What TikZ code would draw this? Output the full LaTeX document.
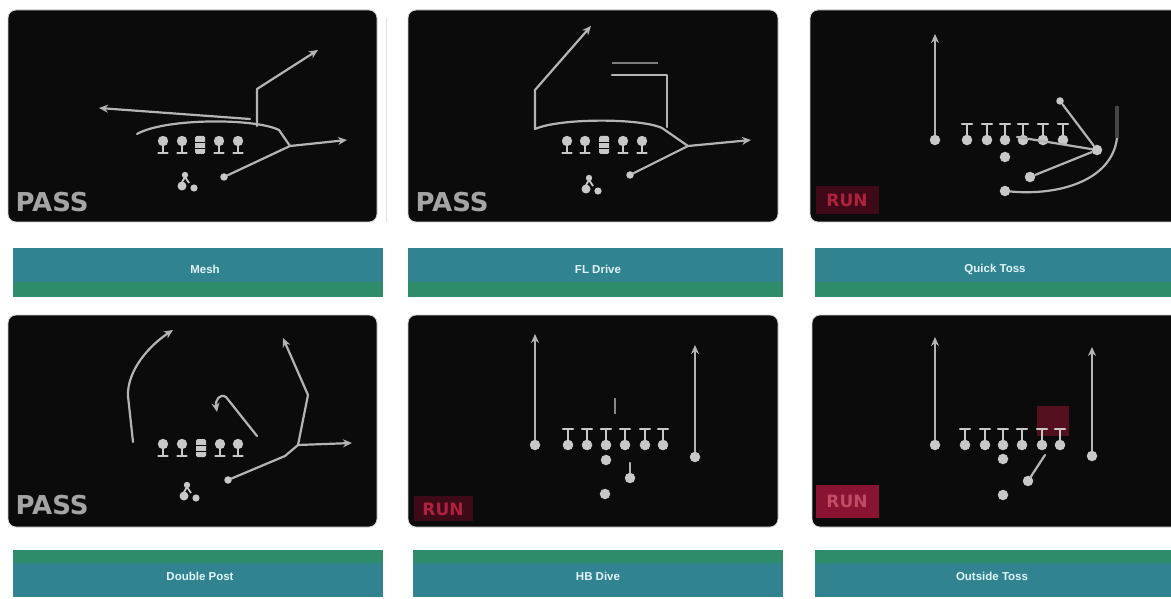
\documentclass[tikz,border=0pt]{standalone}
\usepackage{fontspec}
\setmainfont{DejaVu Sans}
\newfontfamily\btnfont{Liberation Sans}
\usetikzlibrary{arrows.meta}
\definecolor{cardfill}{HTML}{0B0B0B}
\definecolor{chalk}{HTML}{C8C8C8}
\definecolor{routec}{HTML}{B4B4B4}
\definecolor{tealc}{HTML}{30838F}
\definecolor{greenc}{HTML}{2E8C6A}
\definecolor{btntext}{HTML}{E2F4FB}
\definecolor{passc}{HTML}{A4A4A4}
\definecolor{runtext}{HTML}{B0203F}
\definecolor{runbox}{HTML}{3E0A17}
\definecolor{runbright}{HTML}{8A1232}
\definecolor{hlbox}{HTML}{55101F}
\tikzset{
  card/.style={fill=cardfill, draw=gray!35, line width=0.8pt, rounded corners=8pt},
  route/.style={draw=routec, line width=2.2pt, line cap=round, line join=round},
  tipped/.style={-{Stealth[length=9pt,width=8pt]}},
  plr/.style={circle, fill=chalk, inner sep=0pt, minimum size=10.5pt},
  passlbl/.style={text=passc, font=\bfseries\fontsize{26}{26}\selectfont, anchor=west},
  runlbl/.style={text=runtext, font=\bfseries\fontsize{17}{17}\selectfont},
  btnlbl/.style={text=btntext, font=\btnfont\bfseries\fontsize{11.5}{11.5}\selectfont},
  passman/.pic={
    \fill[chalk] (0,0) circle[radius=5.2pt];
    \draw[chalk, line width=2pt] (0,3) -- (0,11);
    \draw[chalk, line width=2.6pt, line cap=round] (-4.5,12) -- (4.5,12);
  },
  snapper/.pic={
    \fill[chalk, rounded corners=1.5pt] (-5,-5) rectangle (5,13);
    \draw[cardfill, line width=0.8pt] (-5,1) -- (5,1) (-5,7) -- (5,7);
  },
  runman/.pic={
    \draw[chalk, line width=2.4pt, line cap=round] (-5,-16) -- (5,-16);
    \draw[chalk, line width=2pt] (0,-16) -- (0,-4);
    \fill[chalk] (0,0) circle[radius=5.3pt];
  },
  qbglyph/.pic={
    \fill[chalk] (0,-6) circle[radius=3.2pt];
    \draw[chalk, line width=1.8pt] (0,-4) -- (-3,1) (0,-4) -- (4,2);
    \fill[chalk] (-3,5) circle[radius=4.5pt];
    \fill[chalk] (9,7) circle[radius=3.6pt];
  },
}
\begin{document}
\begin{tikzpicture}[x=1pt,y=-1pt]
\useasboundingbox (0,0) rectangle (1171,599);
\clip (0,0) rectangle (1171,599);
\fill[white] (0,0) rectangle (1171,599);

% faint separator
\draw[gray!25, line width=0.8pt] (386,18) -- (386,222);

% ================= cards =================
\path[card] (8,10) rectangle (377,222);
\path[card] (408,10) rectangle (778,222);
\path[card] (810,10) rectangle (1185,222);
\path[card] (8,315) rectangle (377,527);
\path[card] (408,315) rectangle (778,527);
\path[card] (812,315) rectangle (1185,527);

% ================= buttons =================
\fill[tealc] (13,248) rectangle (383,282);
\fill[greenc] (13,282) rectangle (383,297);
\fill[tealc] (408,248) rectangle (783,282);
\fill[greenc] (408,282) rectangle (783,297);
\fill[tealc] (815,248) rectangle (1171,282);
\fill[greenc] (815,282) rectangle (1171,297);
\fill[greenc] (13,550) rectangle (383,563);
\fill[tealc] (13,563) rectangle (383,597);
\fill[greenc] (413,550) rectangle (783,563);
\fill[tealc] (413,563) rectangle (783,597);
\fill[greenc] (815,550) rectangle (1171,563);
\fill[tealc] (815,563) rectangle (1171,597);

\node[btnlbl] (b1) at (205,269) {Mesh};
\node[btnlbl] (b2) at (598,269) {FL Drive};
\node[btnlbl] (b3) at (995,269) {Quick Toss};
\node[btnlbl] (b4) at (200,576) {Double Post};
\node[btnlbl] (b5) at (598,576) {HB Dive};
\node[btnlbl] (b6) at (992,576) {Outside Toss};

% ================= card 1 : PASS =================
\node[passlbl] (p1) at (12,202) {PASS};
\pic (c1l1) at (163,141) {passman};
\pic (c1l2) at (182,141) {passman};
\pic (c1l3) at (200,141) {snapper};
\pic (c1l4) at (219,141) {passman};
\pic (c1l5) at (238,141) {passman};
\pic (c1qb) at (185,181) {qbglyph};
\node[plr, minimum size=7.5pt] (c1rb) at (224,177) {};
\coordinate (c1a) at (137,134);
\coordinate (c1b) at (279,130);
\coordinate (c1v) at (290,146);
\coordinate (c1c) at (347,140);
\coordinate (c1d) at (257,126);
\coordinate (c1e) at (257,89);
\coordinate (c1f) at (318,50);
\coordinate (c1g) at (250,119);
\coordinate (c1h) at (99,108);
\draw[route] (c1a) .. controls (165,118) and (255,118) .. (c1b) -- (c1v);
\draw[route] (c1rb) -- (c1v);
\draw[route, tipped] (c1v) -- (c1c);
\draw[route, tipped] (c1d) -- (c1e) -- (c1f);
\draw[route, tipped] (c1g) -- (c1h);

% ================= card 2 : PASS =================
\node[passlbl] (p2) at (412,202) {PASS};
\pic (c2l1) at (567,141) {passman};
\pic (c2l2) at (585,141) {passman};
\pic (c2l3) at (604,141) {snapper};
\pic (c2l4) at (623,141) {passman};
\pic (c2l5) at (642,141) {passman};
\pic (c2qb) at (589,184) {qbglyph};
\node[plr, minimum size=7.5pt] (c2rb) at (630,175) {};
\coordinate (c2a) at (535,129);
\coordinate (c2b) at (662,128);
\coordinate (c2v) at (688,146);
\coordinate (c2c) at (751,140);
\coordinate (c2d) at (535,90);
\coordinate (c2e) at (591,26);
\coordinate (c2f) at (667,127);
\coordinate (c2g) at (667,75);
\coordinate (c2h) at (612,75);
\coordinate (c2i) at (650,165);
\draw[route] (c2a) .. controls (560,118) and (640,118) .. (c2b) -- (c2v);
\draw[route] (c2rb) -- (c2i) -- (c2v);
\draw[route, tipped] (c2v) -- (c2c);
\draw[route, tipped] (c2a) -- (c2d) -- (c2e);
\draw[route] (c2f) -- (c2g) -- (c2h);
\draw[routec!70!black, line width=1.8pt] (612,63) -- (658,63);

% ================= card 3 : RUN =================
\fill[runbox] (816,186) rectangle (879,214);
\node[runlbl] (r3) at (847,200) {RUN};
\node[plr] (c3w) at (935,140) {};
\coordinate (c3wt) at (935,34);
\draw[route, tipped] (c3w) -- (c3wt);
\pic (c3l1) at (967,140) {runman};
\pic (c3l2) at (987,140) {runman};
\pic (c3l3) at (1005,140) {runman};
\pic (c3l4) at (1023,140) {runman};
\pic (c3l5) at (1043,140) {runman};
\pic (c3l6) at (1063,140) {runman};
\node[plr] (c3qb) at (1005,157) {};
\node[plr] (c3hb) at (1030,177) {};
\node[plr] (c3fb) at (1005,191) {};
\node[plr] (c3te) at (1097,150) {};
\node[plr, minimum size=7.5pt] (c3lb) at (1060,101) {};
\coordinate (c3s) at (1017,137);
\coordinate (c3x) at (1117,138);
\coordinate (c3y) at (1117,106);
\draw[route] (c3s) -- (c3te);
\draw[route] (c3lb) -- (c3te);
\draw[route] (c3hb) -- (c3te);
\draw[route] (c3fb) .. controls (1060,196) and (1112,180) .. (c3x);
\draw[gray!55!black, line width=4.5pt] (c3x) -- (c3y);

% ================= card 4 : PASS =================
\node[passlbl] (p4) at (12,505) {PASS};
\pic (c4l1) at (163,444) {passman};
\pic (c4l2) at (182,444) {passman};
\pic (c4l3) at (201,444) {snapper};
\pic (c4l4) at (220,444) {passman};
\pic (c4l5) at (238,444) {passman};
\pic (c4qb) at (187,491) {qbglyph};
\node[plr, minimum size=7.5pt] (c4rb) at (228,480) {};
\coordinate (c4a) at (133,442);
\coordinate (c4b) at (128,396);
\coordinate (c4c) at (173,330);
\coordinate (c4d) at (298,445);
\coordinate (c4e) at (308,395);
\coordinate (c4f) at (283,338);
\coordinate (c4g) at (352,443);
\coordinate (c4h) at (257,436);
\coordinate (c4i) at (226,397);
\coordinate (c4j) at (217,412);
\coordinate (c4k) at (285,456);
\draw[route, tipped] (c4a) -- (c4b) .. controls (127,370) and (150,345) .. (c4c);
\draw[route, tipped] (c4d) -- (c4e) -- (c4f);
\draw[route, tipped] (c4d) -- (c4g);
\draw[route, tipped] (c4h) -- (c4i) .. controls (220,393) and (215,400) .. (c4j);
\draw[route] (c4rb) -- (c4k) -- (c4d);

% ================= card 5 : RUN =================
\fill[runbox] (414,496) rectangle (473,521);
\node[runlbl] (r5) at (443,509) {RUN};
\node[plr] (c5w1) at (535,445) {};
\coordinate (c5t1) at (535,334);
\draw[route, tipped] (c5w1) -- (c5t1);
\node[plr] (c5w2) at (695,457) {};
\coordinate (c5t2) at (695,345);
\draw[route, tipped] (c5w2) -- (c5t2);
\pic (c5l1) at (568,445) {runman};
\pic (c5l2) at (587,445) {runman};
\pic (c5l3) at (606,445) {runman};
\pic (c5l4) at (625,445) {runman};
\pic (c5l5) at (645,445) {runman};
\pic (c5l6) at (663,445) {runman};
\draw[routec!75!black, line width=2.2pt] (615,398) -- (615,414);
\node[plr] (c5qb) at (606,460) {};
\node[plr] (c5hb) at (630,478) {};
\node[plr] (c5fb) at (605,494) {};
\coordinate (c5h) at (630,463);
\draw[route] (c5hb) -- (c5h);

% ================= card 6 : RUN =================
\fill[runbright] (816,485) rectangle (879,518);
\node[runlbl, text=runtext!80!white] (r6) at (847,501) {RUN};
\fill[hlbox] (1037,406) rectangle (1069,436);
\node[plr] (c6w1) at (935,445) {};
\coordinate (c6t1) at (935,337);
\draw[route, tipped] (c6w1) -- (c6t1);
\node[plr] (c6w2) at (1092,456) {};
\coordinate (c6t2) at (1092,347);
\draw[route, tipped] (c6w2) -- (c6t2);
\pic (c6l1) at (965,445) {runman};
\pic (c6l2) at (985,445) {runman};
\pic (c6l3) at (1003,445) {runman};
\pic (c6l4) at (1022,445) {runman};
\pic (c6l5) at (1042,445) {runman};
\pic (c6l6) at (1060,445) {runman};
\node[plr] (c6qb) at (1003,459) {};
\node[plr] (c6hb) at (1028,481) {};
\node[plr] (c6fb) at (1003,495) {};
\coordinate (c6h) at (1045,455);
\draw[route] (c6hb) -- (c6h);
\end{tikzpicture}
\end{document}
